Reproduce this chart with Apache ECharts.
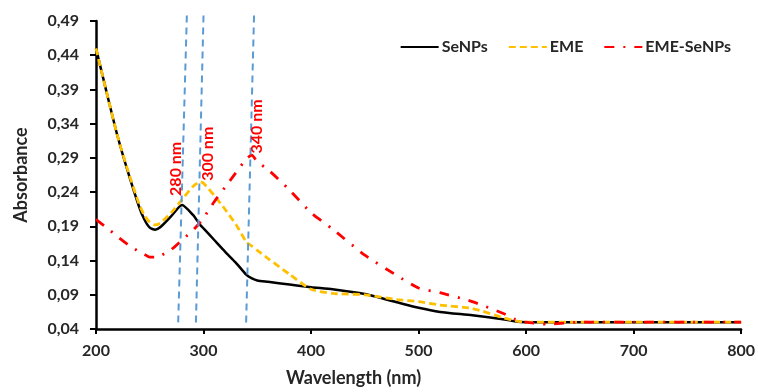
<!DOCTYPE html>
<html>
<head>
<meta charset="utf-8">
<script src="https://cdn.jsdelivr.net/npm/echarts@6/dist/echarts.min.js"></script>
<style>
html,body{margin:0;padding:0;background:#fff;}
#chart{width:758px;height:392px;}
</style>
</head>
<body>
<div id="chart"></div>
<script>
var wavelengths = [200,210,220,230,240,245,250,255,260,270,280,290,297,300,310,320,330,340,345,350,360,380,400,420,450,480,500,520,550,580,590,600,620,650,700,750,800];
var seNPs =      [0.450,0.385,0.322,0.268,0.219,0.200,0.188,0.185,0.189,0.205,0.221,0.207,0.192,0.187,0.170,0.153,0.137,0.119,0.114,0.111,0.109,0.105,0.101,0.098,0.091,0.079,0.071,0.065,0.060,0.054,0.051,0.050,0.050,0.050,0.050,0.050,0.050];
var eme =        [0.450,0.385,0.322,0.270,0.223,0.206,0.196,0.192,0.195,0.210,0.229,0.248,0.255,0.253,0.235,0.215,0.193,0.167,0.161,0.155,0.143,0.120,0.098,0.092,0.090,0.083,0.080,0.075,0.070,0.056,0.052,0.050,0.050,0.050,0.050,0.050,0.050];
var emeSeNPs =   [0.200,0.188,0.175,0.163,0.153,0.149,0.145,0.145,0.147,0.156,0.170,0.184,0.196,0.202,0.226,0.247,0.268,0.289,0.294,0.284,0.273,0.243,0.210,0.186,0.148,0.118,0.100,0.093,0.080,0.062,0.054,0.050,0.047,0.050,0.050,0.050,0.050];
var yTicks = [0.04,0.09,0.14,0.19,0.24,0.29,0.34,0.39,0.44,0.49];
var seriesNames = ['SeNPs','EME','EME-SeNPs'];
var peakLines = [[284.5,0.498,276.4,0.047],[300,0.498,292.9,0.047],[347,0.498,339.6,0.047]];
var peakLabels = [['280 nm',274.3,0.274],['300 nm',304.3,0.296],['340 nm',349.8,0.336]];

function pairs(vals){ return wavelengths.map(function(w,i){ return [w, vals[i]]; }); }
var font = 'Lato';
var chart = echarts.init(document.getElementById('chart'));
chart.setOption({
  animation: false,
  backgroundColor: '#fff',
  grid: {left: 96, right: 16, top: 21, bottom: 60, containLabel: false},
  legend: {
    data: seriesNames,
    right: 22, top: 34,
    itemWidth: 38, itemHeight: 14, itemGap: 20,
    itemStyle: {opacity: 0},
    textStyle: {fontFamily: font, fontWeight: 'bold', fontSize: 16, color: '#262626', padding: [0,0,0,-2]}
  },
  xAxis: {
    type: 'value', min: 200, max: 800, interval: 100,
    name: 'Wavelength (nm)', nameLocation: 'middle', nameGap: 40,
    nameTextStyle: {fontFamily: font, fontWeight: 'bold', fontSize: 18, color: '#262626', padding: [0,130,0,0]},
    axisLine: {show: true, lineStyle: {color: '#000', width: 2.5}},
    axisTick: {show: true, length: 5, lineStyle: {color: '#000', width: 2}},
    axisLabel: {margin: 14, fontFamily: font, fontWeight: 'bold', fontSize: 16, color: '#262626'},
    splitLine: {show: false}
  },
  yAxis: {
    type: 'value', min: 0.04, max: 0.49,
    name: 'Absorbance', nameLocation: 'middle', nameGap: 66,
    nameTextStyle: {fontFamily: font, fontWeight: 'bold', fontSize: 18, color: '#262626'},
    axisLine: {show: true, lineStyle: {color: '#000', width: 2.5}},
    axisTick: {show: true, length: 6, customValues: yTicks, lineStyle: {color: '#000', width: 2}},
    axisLabel: {margin: 17, customValues: yTicks, fontFamily: font, fontWeight: 'bold', fontSize: 16, color: '#262626',
      formatter: function(v){ return v.toFixed(2).replace('.', ','); }},
    splitLine: {show: false}
  },
  series: [
    {
      name: seriesNames[0], type: 'line', data: pairs(seNPs), smooth: 0.2, symbol: 'none',
      lineStyle: {color: '#000', width: 2.5}, itemStyle: {color: '#000'}, z: 3
    },
    {
      name: seriesNames[1], type: 'line', data: pairs(eme), smooth: 0.2, symbol: 'none',
      lineStyle: {color: '#FFC000', width: 2.8, type: [7,4]}, itemStyle: {color: '#FFC000'}, z: 4
    },
    {
      name: seriesNames[2], type: 'line', data: pairs(emeSeNPs), smooth: 0.2, symbol: 'none',
      lineStyle: {color: '#FF0000', width: 2.8, type: [10,9,2,9]}, itemStyle: {color: '#FF0000'}, z: 5
    },
    {
      name: 'peaks', type: 'custom', clip: false, silent: true, z: 6,
      data: peakLines.map(function(l, i){ return [l[0], l[1], l[2], l[3], peakLabels[i][1], peakLabels[i][2]]; }),
      encode: {x: [0, 2, 4], y: [1, 3, 5]},
      renderItem: function(params, api){
        var p1 = api.coord([api.value(0), api.value(1)]);
        var p2 = api.coord([api.value(2), api.value(3)]);
        var pl = api.coord([api.value(4), api.value(5)]);
        return {
          type: 'group',
          children: [
            {type: 'line', shape: {x1: p1[0], y1: p1[1], x2: p2[0], y2: p2[1]},
             style: {stroke: '#5B9BD5', lineWidth: 2, lineDash: [7,5]}},
            {type: 'text', x: pl[0], y: pl[1], rotation: Math.PI / 2,
             style: {text: peakLabels[params.dataIndex][0], fill: '#FF0000', fontFamily: font, fontWeight: 'bold', fontSize: 16,
                     align: 'center', verticalAlign: 'middle'}}
          ]
        };
      }
    }
  ]
});
</script>
</body>
</html>
